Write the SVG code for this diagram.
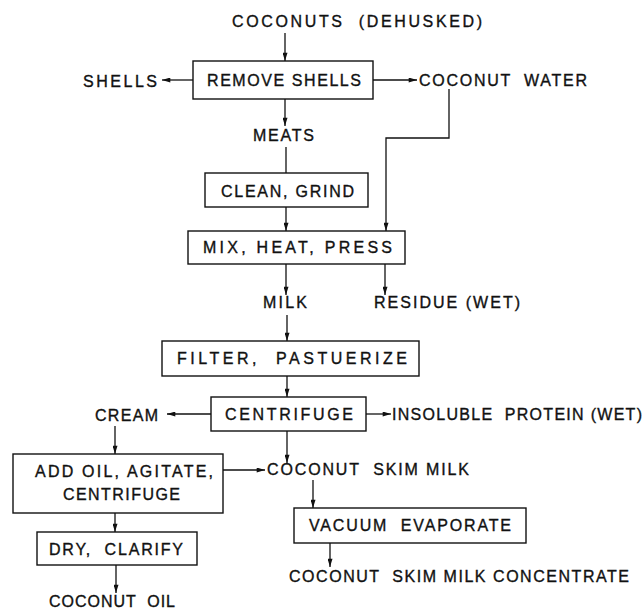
<svg xmlns="http://www.w3.org/2000/svg" width="644" height="610" viewBox="0 0 644 610" xml:space="preserve">
<defs>
<marker id="ah" viewBox="0 0 10 6" refX="10" refY="3" markerWidth="9" markerHeight="5" markerUnits="userSpaceOnUse" orient="auto">
<path d="M0,0 L10,3 L0,6 Z" fill="#111"/>
</marker>
<style>
text{font-family:"Liberation Sans",Arial,sans-serif;font-size:16px;fill:#111;stroke:#111;stroke-width:0.35;white-space:pre;}
.box{fill:#fff;stroke:#111;stroke-width:1.4;}
.c{fill:none;stroke:#111;stroke-width:1.3;}
.a{marker-end:url(#ah);}
</style>
</defs>
<rect width="644" height="610" fill="#fff"/>
<g id="connectors">
<line class="c a" x1="285" y1="33" x2="285" y2="61"/>
<line class="c a" x1="193" y1="80" x2="162" y2="80"/>
<line class="c a" x1="373" y1="80" x2="417" y2="80"/>
<line class="c a" x1="285" y1="99" x2="285" y2="126"/>
<line class="c" x1="286" y1="147" x2="286" y2="173"/>
<line class="c a" x1="286" y1="207" x2="286" y2="231"/>
<polyline class="c a" points="449,89 449,138 386,138 386,231"/>
<line class="c a" x1="286" y1="264" x2="286" y2="295"/>
<line class="c a" x1="385" y1="264" x2="385" y2="295"/>
<line class="c a" x1="287" y1="315" x2="287" y2="341"/>
<line class="c a" x1="287" y1="376" x2="287" y2="397"/>
<line class="c a" x1="211" y1="414" x2="167" y2="414"/>
<line class="c a" x1="366" y1="414" x2="391" y2="414"/>
<line class="c a" x1="115" y1="426" x2="115" y2="454"/>
<line class="c a" x1="287" y1="431" x2="287" y2="463"/>
<line class="c a" x1="223" y1="470" x2="265" y2="470"/>
<line class="c a" x1="313" y1="480" x2="313" y2="508"/>
<line class="c a" x1="115" y1="513" x2="115" y2="532"/>
<line class="c a" x1="116" y1="565" x2="116" y2="593"/>
<line class="c a" x1="330" y1="543" x2="330" y2="567"/>
</g>
<g id="coconuts"><text x="232" y="27" textLength="250" lengthAdjust="spacing">COCONUTS  (DEHUSKED)</text></g>
<g id="remove-shells"><rect class="box" x="193" y="61" width="180" height="38"/><text x="207" y="86" textLength="154" lengthAdjust="spacing">REMOVE SHELLS</text></g>
<g id="shells"><text x="83" y="87" textLength="74" lengthAdjust="spacing">SHELLS</text></g>
<g id="coconut-water"><text x="419" y="86" textLength="168" lengthAdjust="spacing">COCONUT  WATER</text></g>
<g id="meats"><text x="253" y="141" textLength="61" lengthAdjust="spacing">MEATS</text></g>
<g id="clean-grind"><rect class="box" x="205" y="173" width="163" height="34"/><text x="221" y="197" textLength="133" lengthAdjust="spacing">CLEAN, GRIND</text></g>
<g id="mix-heat-press"><rect class="box" x="188" y="231" width="217" height="33"/><text x="203" y="253" textLength="189" lengthAdjust="spacing">MIX, HEAT, PRESS</text></g>
<g id="milk"><text x="263" y="308" textLength="44" lengthAdjust="spacing">MILK</text></g>
<g id="residue"><text x="374" y="308" textLength="146" lengthAdjust="spacing">RESIDUE (WET)</text></g>
<g id="filter-pasteurize"><rect class="box" x="162" y="341" width="257" height="35"/><text x="177" y="364" textLength="230" lengthAdjust="spacing">FILTER,  PASTUERIZE</text></g>
<g id="centrifuge"><rect class="box" x="211" y="397" width="155" height="34"/><text x="225" y="420" textLength="128" lengthAdjust="spacing">CENTRIFUGE</text></g>
<g id="cream"><text x="95" y="421" textLength="63" lengthAdjust="spacing">CREAM</text></g>
<g id="insoluble-protein"><text x="392" y="420" textLength="250" lengthAdjust="spacing">INSOLUBLE  PROTEIN (WET)</text></g>
<g id="add-oil"><rect class="box" x="13" y="454" width="210" height="59"/><text x="35" y="477" textLength="178" lengthAdjust="spacing">ADD OIL, AGITATE,</text><text x="63" y="500" textLength="117" lengthAdjust="spacing">CENTRIFUGE</text></g>
<g id="skim-milk"><text x="267" y="475" textLength="202" lengthAdjust="spacing">COCONUT  SKIM MILK</text></g>
<g id="vacuum-evaporate"><rect class="box" x="294" y="508" width="232" height="35"/><text x="309" y="531" textLength="202" lengthAdjust="spacing">VACUUM  EVAPORATE</text></g>
<g id="dry-clarify"><rect class="box" x="37" y="532" width="160" height="33"/><text x="49" y="555" textLength="134" lengthAdjust="spacing">DRY,  CLARIFY</text></g>
<g id="concentrate"><text x="289" y="582" textLength="340" lengthAdjust="spacing">COCONUT  SKIM MILK CONCENTRATE</text></g>
<g id="coconut-oil"><text x="49" y="607" textLength="126" lengthAdjust="spacing">COCONUT  OIL</text></g>
</svg>
